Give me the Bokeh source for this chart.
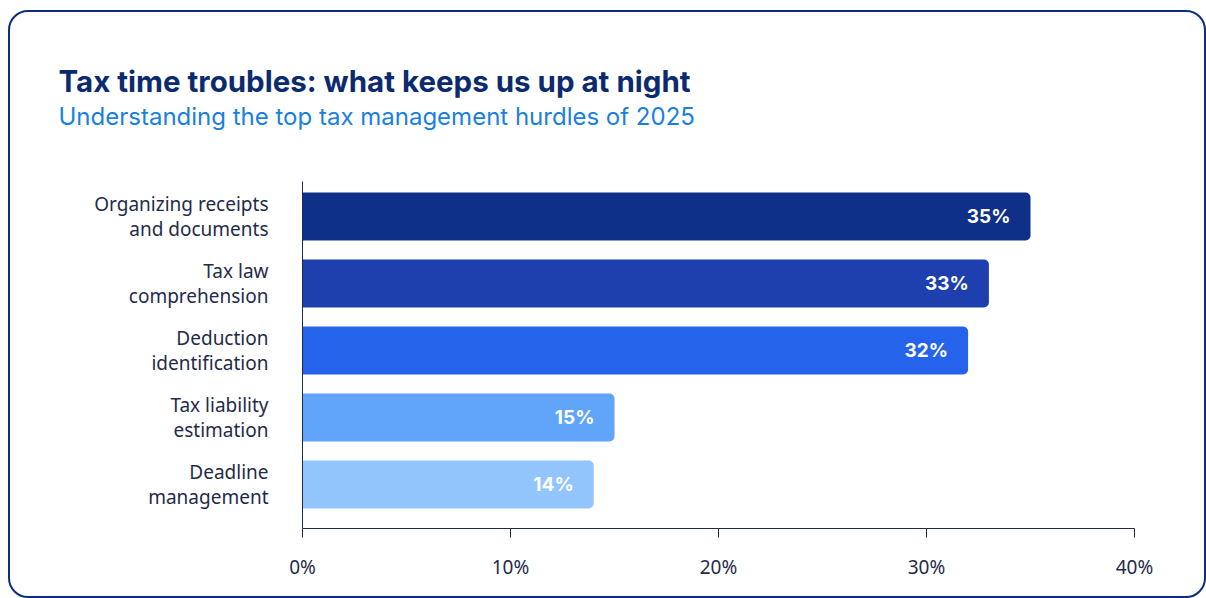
from bokeh.plotting import figure
from bokeh.models import Range1d, FixedTicker, Title, ColumnDataSource
from bokeh.core.properties import value
from bokeh.embed import file_html
from bokeh.resources import INLINE

categories = ["Organizing receipts\nand documents", "Tax law\ncomprehension",
              "Deduction\nidentification", "Tax liability\nestimation", "Deadline\nmanagement"]
values = [35, 33, 32, 15, 14]
colors = ["#0f3088", "#1e40af", "#2563eb", "#60a5fa", "#93c5fd"]
x_ticks = [0, 10, 20, 30, 40]
x_tick_labels = ["0%", "10%", "20%", "30%", "40%"]
title_text = "Tax time troubles: what keeps us up at night"
subtitle_text = "Understanding the top tax management hurdles of 2025"

positions = list(range(len(categories) - 1, -1, -1))  # top to bottom

p = figure(width=1198, height=588, output_backend="svg", toolbar_location=None,
           title_location=None,
           x_range=Range1d(0, 40), y_range=Range1d(-0.657, 4.522),
           min_border_left=294, min_border_right=72, min_border_top=171, min_border_bottom=70)
p.styles = {"margin-left": "8px", "margin-top": "10px",
            "outline": "2.5px solid #0b2f7d", "outline-offset": "-2.5px",
            "border-radius": "20px", "background": "white"}
p.outline_line_color = None
p.xgrid.visible = False
p.ygrid.visible = False
p.background_fill_color = None
p.border_fill_color = None

src = ColumnDataSource(dict(y=positions, v=values, c=colors,
                            t=[f"{v}%" for v in values]))
p.hbar(y="y", right="v", left=0, height=0.716, fill_color="c", line_color=None,
       border_radius=(0, 5, 5, 0), source=src)
p.text(x="v", y="y", text="t", x_offset=-20, text_align="right", text_baseline="middle",
       text_color="white", text_font=value("Inter"), text_font_style="bold",
       text_font_size="19px", source=src)

# x axis
xa = p.xaxis[0]
xa.ticker = FixedTicker(ticks=x_ticks)
xa.major_label_overrides = {t: l for t, l in zip(x_ticks, x_tick_labels)}
xa.major_tick_out = 9
xa.major_tick_in = 0
xa.minor_tick_out = 0
xa.minor_tick_in = 0
xa.axis_line_color = "#1f2b4a"
xa.major_tick_line_color = "#1f2b4a"
xa.major_label_text_color = "#1f2b4a"
xa.major_label_text_font = "Noto Sans"
xa.major_label_text_font_size = "19px"
xa.major_label_standoff = 16

# y axis
ya = p.yaxis[0]
ya.ticker = FixedTicker(ticks=positions)
ya.major_label_overrides = {pos: c for pos, c in zip(positions, categories)}
ya.major_tick_out = 0
ya.major_tick_in = 0
ya.minor_tick_out = 0
ya.minor_tick_in = 0
ya.axis_line_color = "#1f2b4a"
ya.major_label_text_color = "#1f2b4a"
ya.major_label_text_font = "Noto Sans"
ya.major_label_text_font_size = "19px"
ya.major_label_text_line_height = 0.98
ya.major_label_text_align = "right"
ya.major_label_standoff = 34

# spacer (closest to the frame), then subtitle, then title on top
p.add_layout(Title(text=" ", align="left", standoff=46, text_font_size="1px"), "above")
p.add_layout(Title(text=subtitle_text, align="left", offset=-244, standoff=3,
                   text_font="Inter", text_font_style="normal", text_font_size="24px",
                   text_color="#1a7fdf"), "above")
p.add_layout(Title(text=title_text, align="left", offset=-244, standoff=0,
                   text_font="Inter", text_font_style="bold", text_font_size="29.5px",
                   text_color="#0c2b6e"), "above")

open("out.html", "w").write(file_html(p, INLINE))
